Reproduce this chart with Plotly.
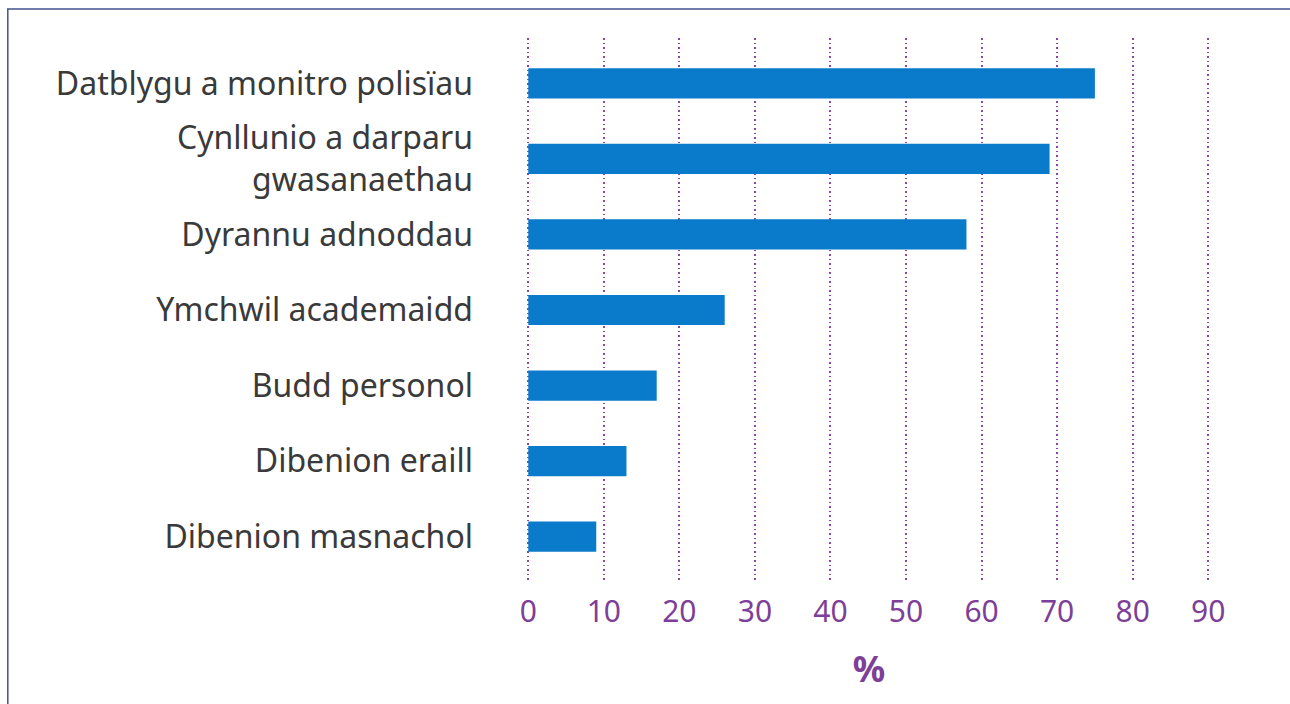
import plotly.graph_objects as go

categories = ["Datblygu a monitro polisïau", "Cynllunio a darparu<br>gwasanaethau",
              "Dyrannu adnoddau", "Ymchwil academaidd", "Budd personol",
              "Dibenion eraill", "Dibenion masnachol"]
values = [75, 69, 58, 26, 17, 13, 9]
xticks = [0, 10, 20, 30, 40, 50, 60, 70, 80, 90]

W_PX, H_PX = 1290, 704
xmin, xmax = -0.3, 90.5
px_per_unit = 680 / 90
L = 528 + xmin * px_per_unit
PW = (xmax - xmin) * px_per_unit
R = W_PX - L - PW
T, B = 38, 122
PH = H_PX - T - B

purple = "#7E3F98"
fig = go.Figure(go.Bar(
    x=values, y=list(range(len(categories))), orientation="h",
    marker=dict(color="#0A7BCB", line=dict(width=0)), width=0.4,
))

def px_to_paper_x(px):
    return (px - L) / PW

def px_to_paper_y(py):
    return (H_PX - B - py) / PH

fig.add_shape(type="path", xref="paper", yref="paper",
              path=f"M {px_to_paper_x(7.5)} {px_to_paper_y(704)} L {px_to_paper_x(7.5)} {px_to_paper_y(9)} L {px_to_paper_x(1290)} {px_to_paper_y(9)}",
              line=dict(color="#44528F", width=1.5))

fig.update_layout(
    width=W_PX, height=H_PX,
    margin=dict(l=L, r=R, t=T, b=B, pad=0),
    plot_bgcolor="white", paper_bgcolor="white",
    showlegend=False,
    font=dict(family="Noto Sans, sans-serif"),
    xaxis=dict(range=[xmin, xmax], tickvals=xticks, ticktext=[str(v) for v in xticks],
               showgrid=True, gridcolor="#8E44AD", griddash="1.5px,3px", gridwidth=1.5,
               zeroline=False, showline=False, ticks="",
               tickfont=dict(size=30, color=purple), ticklabelstandoff=9,
               title=dict(text="<b>%</b>", font=dict(size=36, color=purple), standoff=26)),
    yaxis=dict(range=[6.6, -0.6], tickvals=list(range(len(categories))), ticktext=categories,
               showgrid=False, zeroline=False, showline=False, ticks="",
               tickfont=dict(size=32, color="#3A3A3A"), ticklabelstandoff=52),
)

fig.write_html("out.html")
